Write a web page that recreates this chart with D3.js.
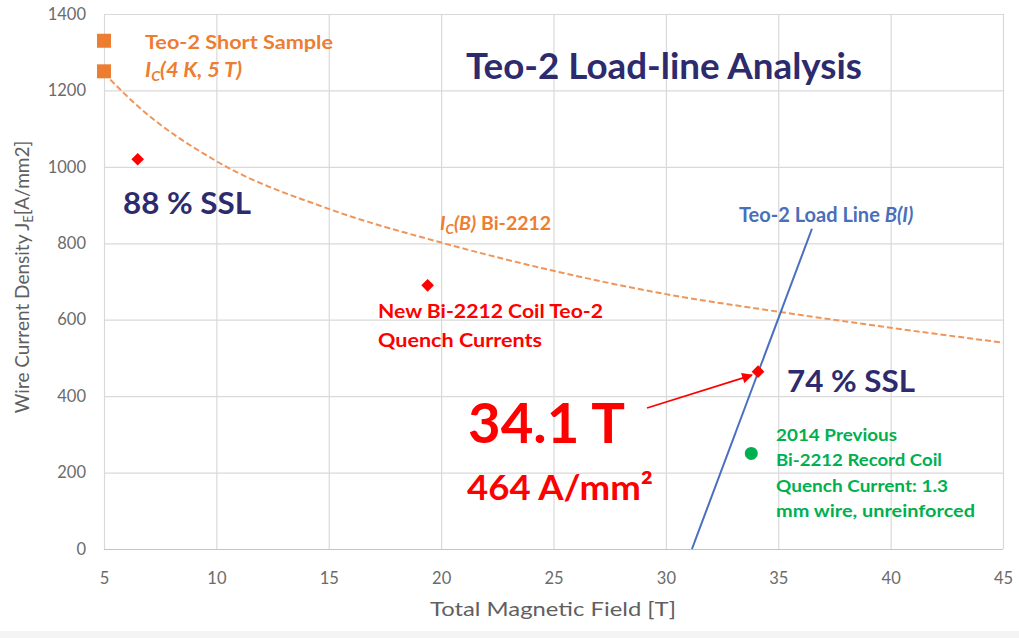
<!DOCTYPE html>
<html>
<head>
<meta charset="utf-8">
<script src="https://cdn.jsdelivr.net/npm/d3@7"></script>
<style>
  html, body { margin: 0; padding: 0; background: #fff; }
  svg { display: block; font-family: Lato, "Open Sans", sans-serif; }
</style>
</head>
<body>
<svg id="chart" width="1019" height="638"></svg>
<script>
// ---- data ----
const xTicks = [5, 10, 15, 20, 25, 30, 35, 40, 45];
const yTicks = [0, 200, 400, 600, 800, 1000, 1200, 1400];

// critical current Ic(B) of Bi-2212 wire [T, A/mm2]
const icB = [5, 6.5, 10, 15, 20, 25, 30, 35, 40, 45];
const icJ = [1245, 1159, 1015, 890, 802, 728, 667, 621, 579, 540];

// short-sample points at 4 K, 5 T
const shortB = [5, 5];
const shortJ = [1330, 1250];

// Teo-2 quench currents
const quenchB = [6.5, 19.4, 34.1];
const quenchJ = [1020, 690, 464];

// 2014 record coil quench
const recordB = [33.8];
const recordJ = [250];

// load line B(I)
const loadB = [31.16, 36.5];
const loadJ = [0, 838];

// ---- layout ----
const W = 1019, H = 638;
const plot = { left: 104, right: 1003, top: 14, bottom: 549 };
const svg = d3.select("#chart");

const x = d3.scaleLinear().domain([5, 45]).range([plot.left, plot.right]);
const y = d3.scaleLinear().domain([0, 1400]).range([plot.bottom, plot.top]);

// faint strip along the bottom edge
svg.append("rect").attr("x", 0).attr("y", 631).attr("width", W).attr("height", 7)
  .attr("fill", "#f4f4f4");

// ---- axes & grid ----
const gx = svg.append("g").attr("transform", `translate(0,${plot.bottom})`)
  .call(d3.axisBottom(x).tickValues(xTicks).tickFormat(d3.format("d"))
    .tickSize(-(plot.bottom - plot.top)).tickPadding(23));
const gy = svg.append("g").attr("transform", `translate(${plot.left},0)`)
  .call(d3.axisLeft(y).tickValues(yTicks).tickFormat(d3.format("d"))
    .tickSize(-(plot.right - plot.left)).tickPadding(18));

[gx, gy].forEach(g => {
  g.select(".domain").remove();
  g.selectAll(".tick line").attr("stroke", "#d9d9d9").attr("stroke-width", 1.2);
  g.selectAll(".tick text").attr("fill", "#6b6b6b").attr("font-size", 16.5)
    .attr("font-family", "Lato, sans-serif");
});
gy.selectAll(".tick").filter(d => d === 0).select("line").attr("stroke", "#c4c4c4");

// axis titles
svg.append("text").attr("x", 553).attr("y", 616).attr("text-anchor", "middle")
  .attr("font-size", 19).attr("fill", "#606060")
  .attr("textLength", 246).attr("lengthAdjust", "spacingAndGlyphs")
  .text("Total Magnetic Field [T]");

const yt = svg.append("text").attr("transform", "translate(29,277) rotate(-90)")
  .attr("text-anchor", "middle").attr("font-size", 19).attr("fill", "#606060");
yt.append("tspan").text("Wire Current Density J");
yt.append("tspan").attr("font-size", 13).attr("dy", 4).text("E");
yt.append("tspan").attr("dy", -4).text("[A/mm2]");

// ---- curves ----
const line = d3.line().x(d => x(d[0])).y(d => y(d[1])).curve(d3.curveMonotoneX);

svg.append("path")
  .attr("d", line(icB.map((b, i) => [b, icJ[i]])))
  .attr("fill", "none").attr("stroke", "#F0955A").attr("stroke-width", 2)
  .attr("stroke-dasharray", "6,3");

svg.append("path")
  .attr("d", d3.line().x(d => x(d[0])).y(d => y(d[1]))(loadB.map((b, i) => [b, loadJ[i]])))
  .attr("fill", "none").attr("stroke", "#4A6FC0").attr("stroke-width", 2);

// ---- markers ----
svg.append("g").selectAll("rect").data(shortB.map((b, i) => [b, shortJ[i]])).join("rect")
  .attr("x", d => x(d[0]) - 7).attr("y", d => y(d[1]) - 7)
  .attr("width", 14).attr("height", 14).attr("fill", "#ED7D31");

const diamond = d3.symbol().type(d3.symbolSquare).size(80);
svg.append("g").selectAll("path").data(quenchB.map((b, i) => [b, quenchJ[i]])).join("path")
  .attr("d", diamond)
  .attr("transform", d => `translate(${x(d[0])},${y(d[1])}) rotate(45)`)
  .attr("fill", "#FF0000");

svg.append("g").selectAll("circle").data(recordB.map((b, i) => [b, recordJ[i]])).join("circle")
  .attr("cx", d => x(d[0])).attr("cy", d => y(d[1])).attr("r", 6.5)
  .attr("fill", "#00B050");

// ---- arrow to the 34.1 T point ----
const defs = svg.append("defs");
defs.append("marker").attr("id", "arrowhead").attr("viewBox", "0 0 10 10")
  .attr("refX", 9).attr("refY", 5).attr("markerWidth", 7).attr("markerHeight", 6)
  .attr("markerUnits", "strokeWidth").attr("orient", "auto")
  .append("path").attr("d", "M0,0 L10,5 L0,10 z").attr("fill", "#FF0000");

svg.append("line")
  .attr("x1", x(29.16)).attr("y1", y(369))
  .attr("x2", x(33.83)).attr("y2", y(455))
  .attr("stroke", "#FF0000").attr("stroke-width", 1.8)
  .attr("marker-end", "url(#arrowhead)");

// ---- text annotations ----
function label(px, py, txt, opts) {
  const t = svg.append("text").attr("x", px).attr("y", py)
    .attr("font-size", opts.size).attr("font-weight", opts.weight || 700)
    .attr("fill", opts.color);
  if (opts.italic) t.attr("font-style", "italic");
  if (opts.len) t.attr("textLength", opts.len).attr("lengthAdjust", "spacingAndGlyphs");
  t.text(txt);
  return t;
}

const navy = "#2D2B6E", orange = "#ED7D31", red = "#FF0000", green = "#00B050", blue = "#4A6FB8";

label(466, 79, "Teo-2 Load-line Analysis", { size: 36, color: navy, len: 396 });

label(145, 49, "Teo-2 Short Sample", { size: 19.5, color: orange, len: 188 });
const ic45 = svg.append("text").attr("x", 145).attr("y", 77).attr("font-size", 20.5)
  .attr("font-weight", 700).attr("font-style", "italic").attr("fill", orange)
  .attr("textLength", 97).attr("lengthAdjust", "spacingAndGlyphs");
ic45.append("tspan").text("I");
ic45.append("tspan").attr("font-size", 13.5).attr("dy", 4).text("C");
ic45.append("tspan").attr("dy", -4).text("(4 K, 5 T)");

label(123, 214, "88 % SSL", { size: 30, color: navy, len: 128 });
label(787, 392, "74 % SSL", { size: 30, color: navy, len: 128 });

const icb = svg.append("text").attr("x", 440).attr("y", 230).attr("font-size", 19.5)
  .attr("font-weight", 700).attr("fill", orange);
icb.append("tspan").attr("font-style", "italic").text("I");
icb.append("tspan").attr("font-style", "italic").attr("font-size", 13.5).attr("dy", 4).text("C");
icb.append("tspan").attr("font-style", "italic").attr("dy", -4).text("(B)");
icb.append("tspan").text(" Bi-2212");

label(378, 318, "New Bi-2212 Coil Teo-2", { size: 18.5, color: red, len: 225 });
label(378, 347, "Quench Currents", { size: 18.5, color: red, len: 164 });

const ll = svg.append("text").attr("x", 739).attr("y", 222).attr("font-size", 20)
  .attr("font-weight", 700).attr("fill", blue);
ll.append("tspan").text("Teo-2 Load Line ");
ll.append("tspan").attr("font-style", "italic").text("B(I)");

label(468, 443, "34.1 T", { size: 55, color: red, len: 157 });
label(467, 500, "464 A/mm²", { size: 34, color: red, len: 186 });

const greenLines = ["2014 Previous", "Bi-2212 Record Coil", "Quench Current: 1.3", "mm wire, unreinforced"];
const greenLens = [121, 166, 172, 199];
greenLines.forEach((s, i) => label(776, 441 + i * 25.3, s, { size: 17, color: green, len: greenLens[i] }));
</script>
</body>
</html>
